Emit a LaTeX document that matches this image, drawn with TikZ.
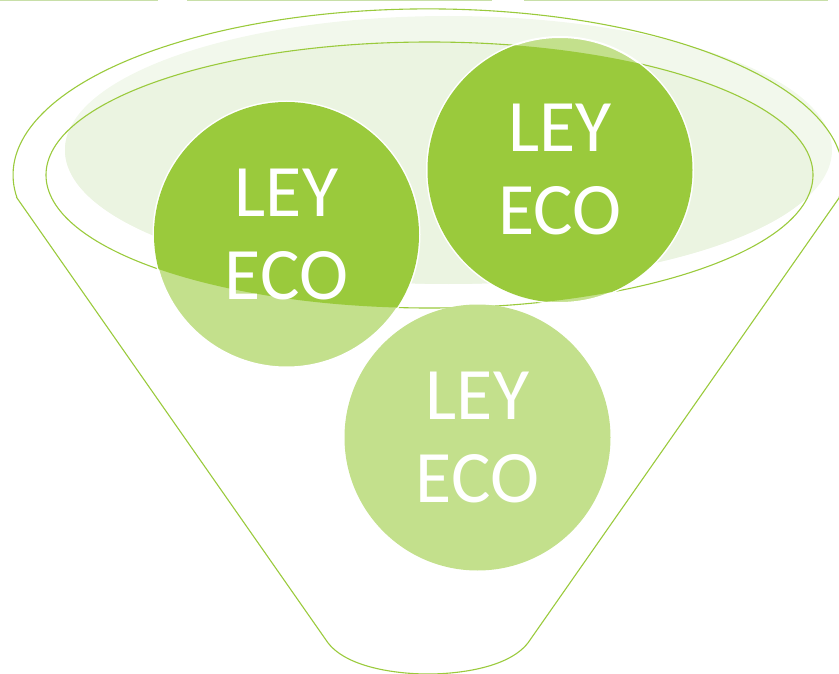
\documentclass[tikz,border=0pt]{standalone}
\usepackage{fontspec}
\setmainfont{Carlito}
\definecolor{gdark}{HTML}{9ACA3C}
\definecolor{glight}{HTML}{C3E08C}
\definecolor{paleout}{HTML}{F2F8EC}
\definecolor{palein}{HTML}{EBF4E1}
\definecolor{topline}{HTML}{C8DFA8}
\begin{document}
\begin{tikzpicture}[x=1pt,y=-1pt,
  funnelline/.style={draw=gdark,line width=1.1pt},
  ball/.style={circle,draw=white,line width=2pt,minimum size=266pt,inner sep=0pt},
  balltext/.style={text=white,align=center,font=\fontsize{74}{83}\selectfont}]
\useasboundingbox (0,0) rectangle (839,674);
% faint top line
\draw[topline,line width=1pt] (0,0.5) -- (158,0.5) (187,0.5) -- (492,0.5) (524,0.5) -- (828,0.5);
% pale back ellipse
\fill[paleout] (448.5,150) ellipse[x radius=383.5pt,y radius=134pt];
\begin{scope}
  \clip (429.5,175) ellipse[x radius=383.5pt,y radius=133pt];
  \fill[palein] (448.5,150) ellipse[x radius=383.5pt,y radius=134pt];
\end{scope}
% funnel outline
\draw[funnelline] (17,198) -- (326,640)
  .. controls (344,668) and (398,674) .. (428,674)
  .. controls (458,674) and (512,668) .. (530,640)
  -- (839,198) arc[start angle=-8,end angle=188,x radius=415pt,y radius=166pt] -- cycle;
% inner rim
\draw[funnelline] (429.5,175) ellipse[x radius=383.5pt,y radius=133pt];
% circles
\node[ball,fill=glight] (c1) at (286.5,234.5) {};
\node[ball,fill=glight] (c2) at (560,170) {};
\node[ball,fill=glight,draw=none] (c3) at (477.5,437.5) {};
\begin{scope}
  \clip (429.5,175) ellipse[x radius=383.5pt,y radius=133pt];
  \fill[gdark] (c1.center) circle[radius=132.5pt];
  \fill[gdark] (c2.center) circle[radius=132.5pt];
\end{scope}
\node[balltext] (t1) at (c1.center) {LEY\\ECO};
\node[balltext] (t2) at (c2.center) {LEY\\ECO};
\node[balltext] (t3) at (c3.center) {LEY\\ECO};
\end{tikzpicture}
\end{document}
